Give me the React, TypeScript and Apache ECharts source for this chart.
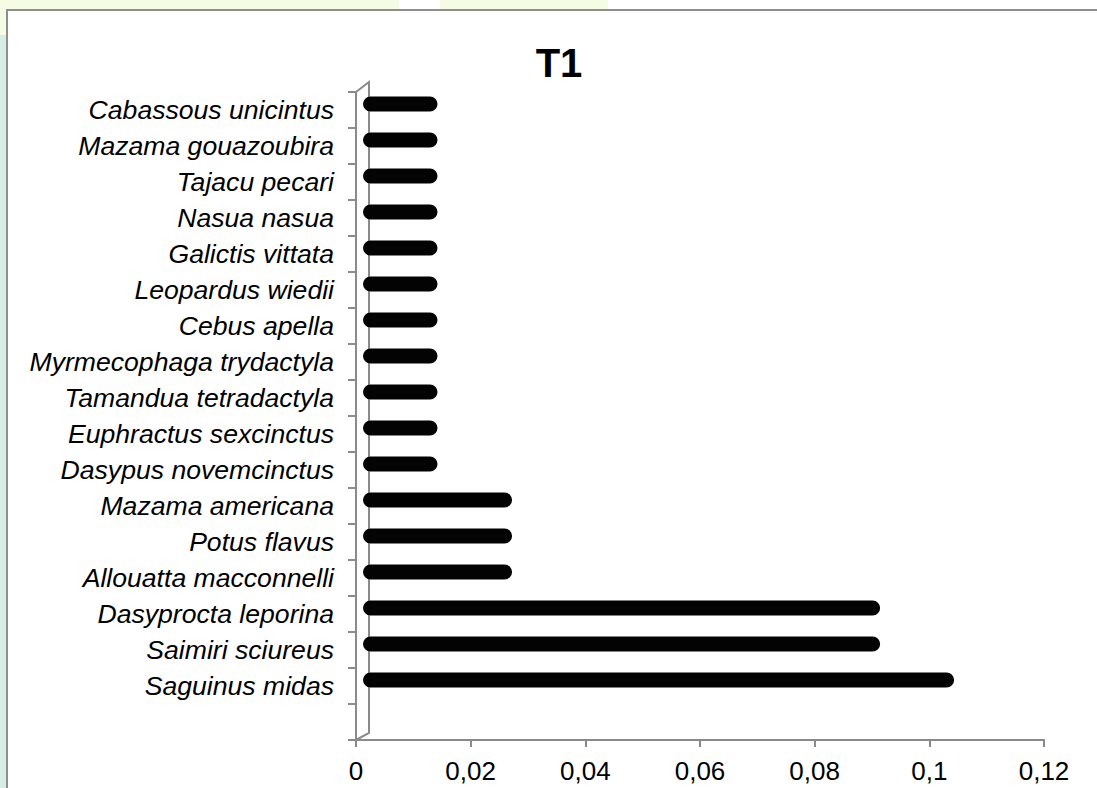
import React, { useEffect, useRef } from "react";
import * as echarts from "echarts";

const categories: string[] = [
  "Cabassous unicintus",
  "Mazama gouazoubira",
  "Tajacu pecari",
  "Nasua nasua",
  "Galictis vittata",
  "Leopardus wiedii",
  "Cebus apella",
  "Myrmecophaga trydactyla",
  "Tamandua tetradactyla",
  "Euphractus sexcinctus",
  "Dasypus novemcinctus",
  "Mazama americana",
  "Potus flavus",
  "Allouatta macconnelli",
  "Dasyprocta leporina",
  "Saimiri sciureus",
  "Saguinus midas",
  "",
];

const values: (number | null)[] = [
  0.013, 0.013, 0.013, 0.013, 0.013, 0.013, 0.013, 0.013, 0.013, 0.013, 0.013,
  0.026, 0.026, 0.026,
  0.0902, 0.0902, 0.1031,
  null,
];

const xMin = 0;
const xMax = 0.12;
const xInterval = 0.02;
const title = "T1";

const FONT = '"Liberation Sans", Arial, sans-serif';
const AXIS_GREY = "#8a8a8a";

export default function App() {
  const ref = useRef<HTMLDivElement>(null);

  useEffect(() => {
    if (!ref.current) return;
    const chart = echarts.init(ref.current, null, { renderer: "svg" });
    const option: any = {
      animation: false,
      backgroundColor: "#ffffff",
      title: {
        text: title,
        left: 554,
        top: 38,
        textAlign: "center",
        textStyle: { fontFamily: FONT, fontWeight: "bold", fontSize: 40, color: "#000" },
      },
      graphic: [
        { type: "rect", shape: { x: 0, y: 0, width: 399, height: 10 }, style: { fill: "#f6fbe3" }, z: -10 },
        { type: "rect", shape: { x: 440, y: 0, width: 168, height: 10 }, style: { fill: "#f6fbe3" }, z: -10 },
        { type: "rect", shape: { x: 0, y: 35, width: 7, height: 753 }, style: { fill: "#d6eee5" }, z: -10 },
        { type: "rect", shape: { x: 0, y: 10, width: 7, height: 25 }, style: { fill: "#f6fbe3" }, z: -10 },
        {
          type: "polyline",
          shape: { points: [[7, 788], [7, 10], [1097, 10]] },
          style: { stroke: "#8e8e8e", lineWidth: 2, fill: null },
          z: 10,
        },
        {
          type: "polyline",
          shape: { points: [[356, 92], [369, 82], [369, 733], [356, 740]] },
          style: { stroke: AXIS_GREY, lineWidth: 2, fill: null },
          z: 1,
        },
      ],
      grid: [
        { left: 356, top: 92, width: 688, height: 648, containLabel: false },
        { left: 363, top: 86, width: 688, height: 648, containLabel: false },
      ],
      xAxis: [
        {
          type: "value",
          gridIndex: 0,
          min: xMin,
          max: xMax,
          interval: xInterval,
          axisLine: { show: true, lineStyle: { color: AXIS_GREY, width: 2 } },
          axisTick: { show: true, length: 7, lineStyle: { color: AXIS_GREY, width: 2 } },
          splitLine: { show: false },
          axisLabel: {
            margin: 18,
            fontFamily: FONT,
            fontSize: 26,
            color: "#000",
            formatter: (v: number) => String(+v.toFixed(2)).replace(".", ","),
          },
        },
        {
          type: "value",
          gridIndex: 1,
          min: xMin,
          max: xMax,
          show: false,
          splitLine: { show: false },
        },
      ],
      yAxis: [
        {
          type: "category",
          gridIndex: 0,
          data: categories,
          inverse: true,
          axisLine: { show: true, lineStyle: { color: AXIS_GREY, width: 2 } },
          axisTick: { show: true, length: 8, lineStyle: { color: AXIS_GREY, width: 2 } },
          axisLabel: {
            margin: 22,
            fontFamily: FONT,
            fontStyle: "italic",
            fontSize: 26.6,
            color: "#000",
          },
        },
        {
          type: "category",
          gridIndex: 1,
          data: categories,
          inverse: true,
          show: false,
        },
      ],
      series: [
        {
          type: "bar",
          xAxisIndex: 1,
          yAxisIndex: 1,
          data: values,
          barWidth: 15,
          itemStyle: { color: "#030303", borderRadius: 7.5 },
          z: 5,
        },
      ],
    };
    chart.setOption(option);
    return () => chart.dispose();
  }, []);

  return (
    <div
      ref={ref}
      style={{ position: "fixed", left: 0, top: 0, width: 1097, height: 788 }}
    />
  );
}
